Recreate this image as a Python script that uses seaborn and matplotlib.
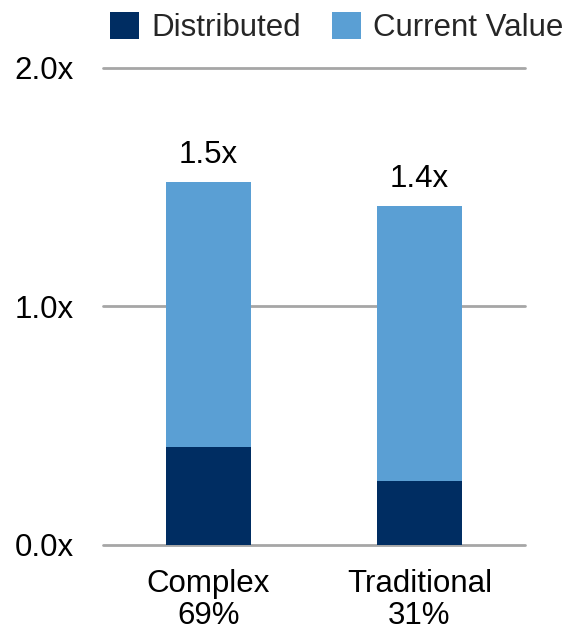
import matplotlib
matplotlib.use("Agg")
import matplotlib.pyplot as plt
import seaborn as sns
import pandas as pd
from matplotlib.patches import Patch

categories = ["Complex\n69%", "Traditional\n31%"]
distributed = [0.41, 0.27]
current_value = [1.11, 1.15]
series_names = ["Distributed", "Current Value"]
y_ticks = [0.0, 1.0, 2.0]

dark = "#002D62"
light = "#5A9FD4"
grid_gray = "#A6A6A6"
fs = 22.5

sns.set_theme(style="white")
plt.rcParams["font.family"] = ["Liberation Sans", "DejaVu Sans"]

totals = [d + c for d, c in zip(distributed, current_value)]
df = pd.DataFrame({"category": categories, "distributed": distributed, "total": totals})

fig = plt.figure(figsize=(5.73, 6.33), dpi=100)
ax = fig.add_axes([103 / 573, 1 - 545 / 633, 422 / 573, (545 - 67.7) / 633])

for y in y_ticks:
    ax.axhline(y, color=grid_gray, lw=2, zorder=0, clip_on=False)

sns.barplot(data=df, x="category", y="total", color=light, width=0.40,
            saturation=1, ax=ax, zorder=2, edgecolor="none")
sns.barplot(data=df, x="category", y="distributed", color=dark, width=0.40,
            saturation=1, ax=ax, zorder=3, edgecolor="none")

for i, t in enumerate(totals):
    ax.annotate(f"{t:.1f}x", (i, t), xytext=(0, 9), textcoords="offset points",
                ha="center", va="bottom", fontsize=fs, color="black")

ax.set_xlim(-0.5, 1.5)
ax.set_ylim(0, 2)
ax.set_yticks(y_ticks)
ax.set_yticklabels([f"{v:.1f}x" for v in y_ticks], fontsize=fs, color="black")
ax.tick_params(axis="y", length=0, pad=21)
ax.tick_params(axis="x", length=0, pad=17, labelsize=fs, labelcolor="black")
for lbl in ax.get_xticklabels():
    lbl.set_linespacing(1.1)
ax.set_xlabel("")
ax.set_ylabel("")
for s in ax.spines.values():
    s.set_visible(False)

handles = [Patch(facecolor=dark, edgecolor="none"), Patch(facecolor=light, edgecolor="none")]
fig.legend(handles, series_names, loc="upper left", bbox_to_anchor=(110 / 573, 1 - 12 / 633),
           ncol=2, frameon=False, fontsize=fs, handlelength=0.93, handleheight=0.93,
           handletextpad=0.38, columnspacing=1.0, borderaxespad=0, borderpad=0)

fig.savefig("out.png", dpi=100)
